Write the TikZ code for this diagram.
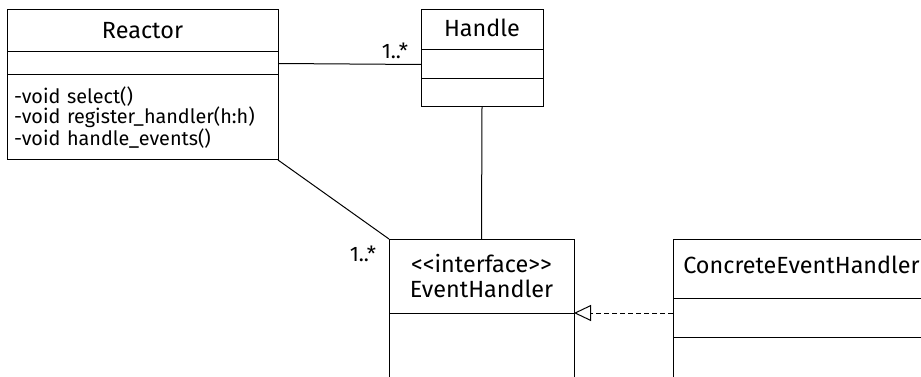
\documentclass[tikz,border=0pt]{standalone}
\usepackage{fontspec}
\setmainfont{Fira Sans}
\usepackage{tikz}
\usetikzlibrary{arrows.meta}
\usetikzlibrary{positioning}
\tikzset{umlpart/.style={draw, line width=1pt, outer sep=0pt, inner sep=0pt,
    font=\fontsize{23.4}{25}\selectfont, align=center},
  umlops/.style={umlpart, align=left, font=\fontsize{19.8}{20}\selectfont},
  mult/.style={font=\fontsize{21}{21}\selectfont, inner sep=0pt},
  realize/.style={dashed, dash pattern=on 5pt off 3pt,
    -{Triangle[open,length=17pt,width=16pt]}}}

\begin{document}
\begin{tikzpicture}[x=1pt,y=-1pt,line width=1pt]

    \useasboundingbox (0,0) rectangle (921,377);
    \clip (0,0) rectangle (921,377);

    % Reactor
    \node [umlpart, minimum width=271pt, minimum height=42pt] (reactor) at (142.5,31) {Reactor};
    \node [umlpart, minimum width=271pt, minimum height=23pt, below=0pt of reactor] (reactor-attr) {};
    \node [umlops, minimum width=271pt, minimum height=85pt, below=0pt of reactor-attr,
      text width=257pt] (reactor-ops)
      {-void select()\\-void register\_handler(h:h)\\-void handle\_events()};

    % Handle
    \node [umlpart, minimum width=122pt, minimum height=40pt, text depth=4pt] (handle) at (482,30) {Handle};
    \node [umlpart, minimum width=122pt, minimum height=29pt, below=0pt of handle] (handle-attr) {};
    \node [umlpart, minimum width=122pt, minimum height=28pt, below=0pt of handle-attr] (handle-ops) {};

    % EventHandler
    \node [umlpart, minimum width=185pt, minimum height=74pt] (event) at (481.5,276)
      {<\kern0pt<interface>\kern0pt>\\EventHandler};
    \node [umlpart, minimum width=185pt, minimum height=100pt, below=0pt of event] (event-attr) {};

    % ConcreteEventHandler
    \node [umlpart, minimum width=257pt, minimum height=59pt, text depth=8pt] (concrete) at (801.5,268.5) {ConcreteEventHandler};
    \node [umlpart, minimum width=257pt, minimum height=39pt, below=0pt of concrete] (concrete-attr) {};
    \node [umlpart, minimum width=257pt, minimum height=80pt, below=0pt of concrete-attr] (concrete-ops) {};

    % associations
    \draw (reactor-attr.east) -- (handle-attr.west);
    \draw (handle-ops.south) -- (event.north);
    \draw (reactor-ops.south east) -- (event.north west);
    \draw [realize] (event.south east -| concrete-attr.west) -- (event.south east);

    \node [mult] (mult-handle) at ([xshift=-26pt,yshift=14pt]handle-attr.west) {1..*};
    \node [mult] (mult-event) at ([xshift=-26pt,yshift=-15pt]event.north west) {1..*};

\end{tikzpicture}
\end{document}
